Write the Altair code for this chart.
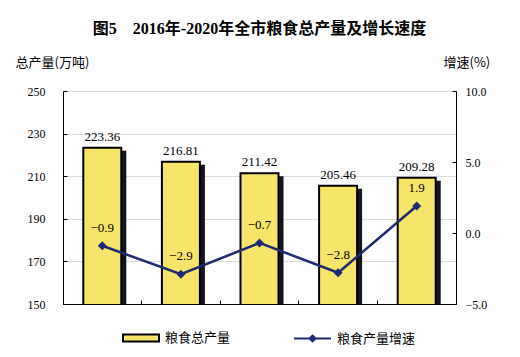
import altair as alt
import pandas as pd

years = ["2016", "2017", "2018", "2019", "2020"]
output = [223.36, 216.81, 211.42, 205.46, 209.28]
growth = [-0.9, -2.9, -0.7, -2.8, 1.9]
bar_name = "粮食总产量"
line_name = "粮食产量增速"
left_ticks = [150, 170, 190, 210, 230, 250]
right_ticks = [-5, 0, 5, 10]

df = pd.DataFrame({"year": years, "output": output, "growth": growth,
                   "bar": bar_name, "line": line_name})

YELLOW = "#F7E46B"
NAVY = "#1F2A70"
NUM_FONT = "Liberation Serif"
CJK_FONT = "Noto Sans CJK SC"

xscale = alt.Scale(paddingInner=0, paddingOuter=0)
yb = alt.Scale(domain=[150, 250], zero=False, nice=False)
yg = alt.Scale(domain=[-5, 10], zero=False, nice=False)

base = alt.Chart(df)

x_main = alt.X("year:N", scale=xscale, sort=years,
               axis=alt.Axis(orient="bottom", domain=True, domainColor="black",
                             ticks=False, labels=False, title=None))
x_tick = alt.X("year:N", scale=xscale, sort=years,
               axis=alt.Axis(orient="bottom", offset=-4, domain=False, ticks=True,
                             tickSize=4, tickColor="black", bandPosition=0,
                             labels=False, title=None))
x_none = alt.X("year:N", scale=xscale, sort=years, axis=None)

shadow = base.mark_bar(color="#151515", size=38, xOffset=5, yOffset=3, clip=True).encode(
    x=x_main,
    y=alt.Y("output:Q", scale=yb,
            axis=alt.Axis(orient="left", values=left_ticks, domain=True, domainColor="black",
                          ticks=False, tickSize=0, labelPadding=18, labelFont=NUM_FONT,
                          labelFontSize=12, labelColor="black",
                          title="总产量(万吨)", titleAngle=0, titleX=-48, titleY=-29,
                          titleAlign="left", titleBaseline="middle", titleFont=CJK_FONT,
                          titleFontSize=13, titleFontWeight="normal", titleColor="black")),
)

bars = base.mark_bar(stroke="black", strokeWidth=2, size=38, clip=True).encode(
    x=x_tick,
    y=alt.Y("output:Q", scale=yb,
            axis=alt.Axis(orient="left", offset=-4, values=left_ticks, domain=False,
                          ticks=True, tickSize=4, tickColor="black", labels=False, title=None)),
    fill=alt.Fill("bar:N", scale=alt.Scale(range=[YELLOW]),
                  legend=alt.Legend(orient="none", legendX=59, legendY=228, title=None,
                                    symbolType="M-1,-0.2H1V0.2H-1Z", symbolSize=1296,
                                    symbolStrokeColor="black", symbolStrokeWidth=2,
                                    symbolFillColor=YELLOW, labelFont=CJK_FONT,
                                    labelFontSize=13, labelOffset=5, labelColor="black",
                                    padding=0)),
)

bar_text = base.mark_text(baseline="bottom", dy=-4, font=NUM_FONT, fontSize=13,
                          color="black").encode(
    x=x_none,
    y=alt.Y("output:Q", scale=yb, axis=None),
    text=alt.Text("output:Q", format=".2f"),
)

line = base.mark_line(strokeWidth=2.5).encode(
    x=x_none,
    y=alt.Y("growth:Q", scale=yg,
            axis=alt.Axis(orient="right", values=right_ticks, format=".1f", domain=True,
                          domainColor="black", ticks=False, tickSize=0, labelPadding=9,
                          labelFont=NUM_FONT, labelFontSize=12, labelColor="black",
                          title="增速(%)", titleAngle=0, titleX=-13, titleY=-29,
                          titleAlign="left", titleBaseline="middle", titleFont=CJK_FONT,
                          titleFontSize=13, titleFontWeight="normal", titleColor="black")),
    stroke=alt.Stroke("line:N", scale=alt.Scale(range=[NAVY]),
                      legend=alt.Legend(orient="none", legendX=230, legendY=228, title=None,
                                        symbolType="M-1,0H1M0,-0.16L0.16,0L0,0.16L-0.16,0Z",
                                        symbolSize=1369, symbolStrokeWidth=2,
                                        symbolStrokeColor=NAVY, symbolFillColor=NAVY,
                                        labelFont=CJK_FONT, labelFontSize=13, labelOffset=5,
                                        labelColor="black", padding=0)),
)

pts = base.mark_point(shape="diamond", filled=True, size=80, color=NAVY, opacity=1).encode(
    x=x_none,
    y=alt.Y("growth:Q", scale=yg,
            axis=alt.Axis(orient="right", offset=-4, values=right_ticks, domain=False,
                          ticks=True, tickSize=4, tickColor="black", labels=False, title=None)),
)

g_text = base.mark_text(baseline="bottom", dy=-11, font=NUM_FONT, fontSize=13,
                        color="black").encode(
    x=x_none,
    y=alt.Y("growth:Q", scale=yg, axis=None),
    text=alt.Text("growth:Q", format=".1f"),
)

chart = alt.layer(shadow, bars, bar_text, line, pts, g_text).resolve_scale(
    y="independent"
).resolve_axis(
    x="independent", y="independent"
).properties(
    width=393, height=213,
    autosize=alt.AutoSizeParams(type="none"),
    padding={"left": 55, "top": 83, "right": 56, "bottom": 52},
    title=alt.TitleParams("图5\u30002016年-2020年全市粮食总产量及增长速度",
                          font=NUM_FONT + ", " + CJK_FONT, fontSize=16, fontWeight="bold",
                          color="black", anchor="middle", offset=19),
).configure_view(stroke=None)

chart.save("out.html", embed_options={"renderer": "svg", "actions": False})
